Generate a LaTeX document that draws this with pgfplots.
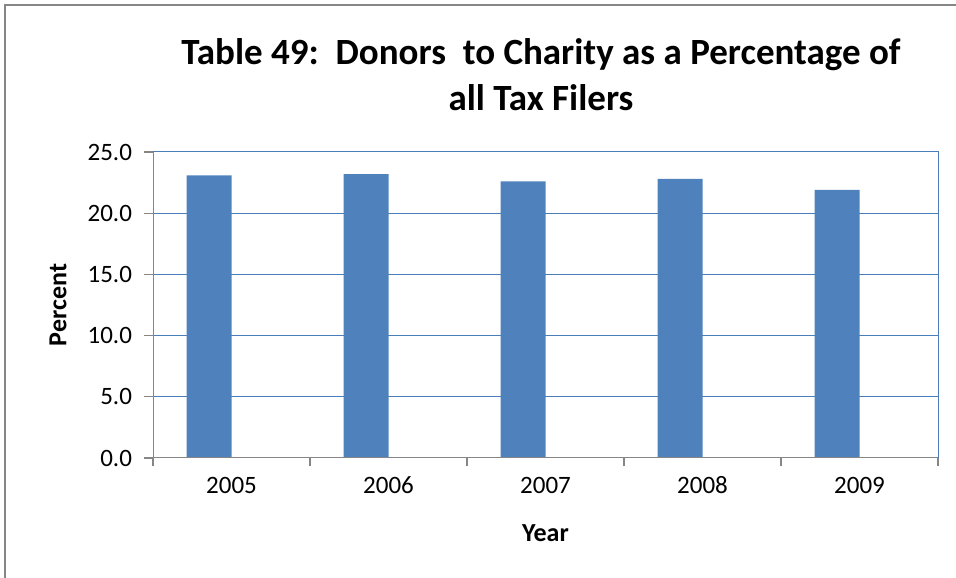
\documentclass[border=0pt]{standalone}
\usepackage{pgfplots}
\pgfplotsset{compat=1.18}
\usepackage{fontspec}
\setmainfont{Carlito}
\definecolor{barblue}{HTML}{4F81BD}
\definecolor{gridblue}{HTML}{4A7EBB}
\definecolor{axisgray}{HTML}{868686}
\begin{document}
\begin{tikzpicture}[x=1pt,y=1pt]
  \path[use as bounding box] (0,0) rectangle (956,578);
  % outer chart frame
  \draw[axisgray,line width=1.2pt] (5,-5) -- (5,573) -- (970,573);
  \begin{axis}[
      at={(153pt,120pt)}, anchor=south west,
      scale only axis, width=785pt, height=306pt,
      ymin=0, ymax=25, ytick={0,5,...,25},
      xmin=-0.5, xmax=4.5,
      % tick marks sit between the categories, names at the centres
      xtick={-0.5,0.5,...,4.5}, xticklabels={},
      extra x ticks={0,1,2,3,4},
      extra x tick labels={2005,2006,2007,2008,2009},
      extra x tick style={major tick length=0pt, grid=none},
      xtick pos=bottom, ytick pos=left,
      major tick length=8.5pt,
      tick align=outside,
      ymajorgrids, grid style={gridblue, line width=1pt},
      axis line style={gridblue, line width=1pt},
      tick style={axisgray, line width=1.2pt},
      /pgf/number format/fixed,
      /pgf/number format/fixed zerofill,
      /pgf/number format/precision=1,
      /pgf/number format/assume math mode=true,
      ticklabel style={font=\fontsize{25}{30}\selectfont},
      xticklabel style={anchor=center, text height=0.63em, text depth=0pt, yshift=-32pt},
      yticklabel style={anchor=east, xshift=-9pt},
      xlabel={Year}, ylabel={Percent},
      label style={font=\bfseries\fontsize{26}{30}\selectfont},
      xlabel style={at={(axis description cs:0.5,0)}, anchor=center, yshift=-75pt},
      ylabel style={at={(axis description cs:0,0.5)}, anchor=center, yshift=95pt},
      ybar, bar width=45pt, bar shift=-22.5pt,
    ]
    \addplot[fill=barblue, draw=none] coordinates {(0,23.1) (1,23.2) (2,22.6) (3,22.8) (4,21.9)};
    \draw[axisgray, line width=1.2pt] (rel axis cs:0,1) -- (rel axis cs:0,0) -- (rel axis cs:1,0);
  \end{axis}
  \node[align=center, font=\bfseries\fontsize{37}{46}\selectfont] at (541,503)
    {Table 49:\ \ Donors\ \ to Charity as a Percentage of\\all Tax Filers};
\end{tikzpicture}
\end{document}
